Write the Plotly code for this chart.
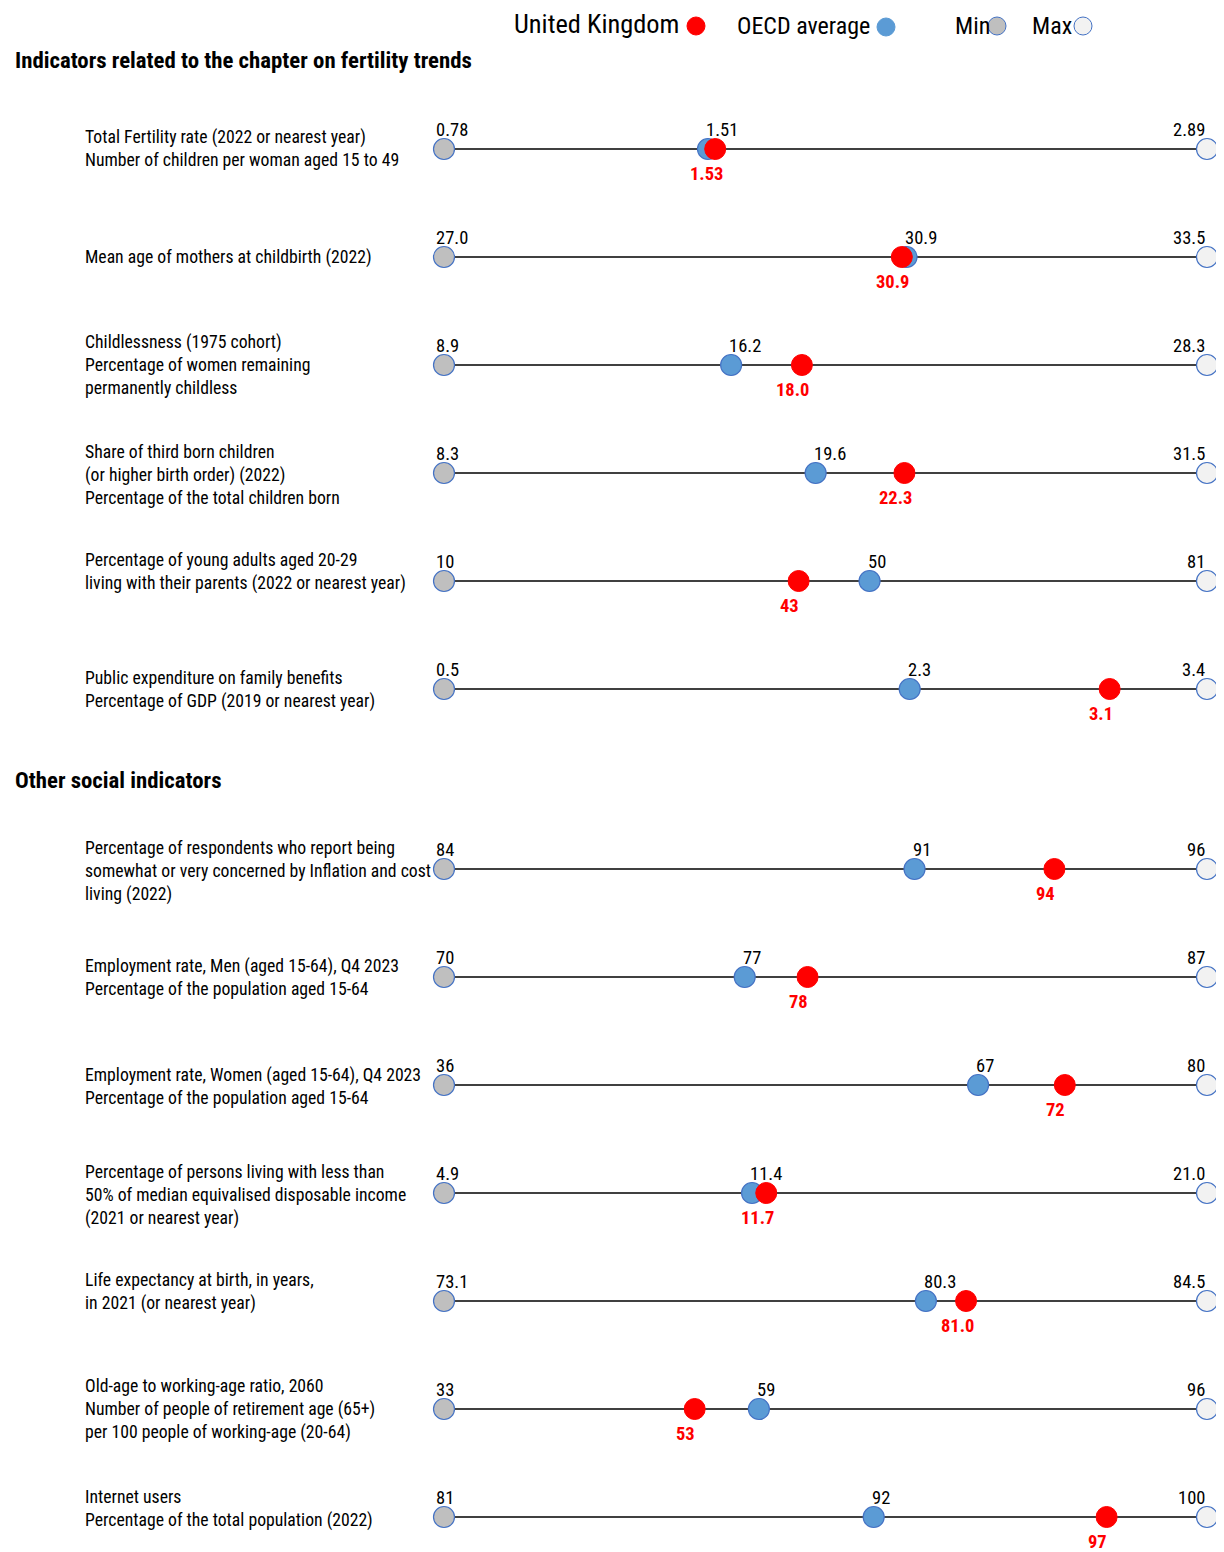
import plotly.graph_objects as go

# ---------------- data ----------------
indicators = [
    "Total Fertility rate (2022 or nearest year)<br>Number of children per woman aged 15 to 49",
    "Mean age of mothers at childbirth (2022)",
    "Childlessness (1975 cohort)<br>Percentage of women remaining<br>permanently childless",
    "Share of third born children<br>(or higher birth order) (2022)<br>Percentage of the total children born",
    "Percentage of young adults aged 20-29<br>living with their parents (2022 or nearest year)",
    "Public expenditure on family benefits<br>Percentage of GDP (2019 or nearest year)",
    "Percentage of respondents who report being<br>somewhat or very concerned by Inflation and cost of<br>living (2022)",
    "Employment rate, Men (aged 15-64), Q4 2023<br>Percentage of the population aged 15-64",
    "Employment rate, Women (aged 15-64), Q4 2023<br>Percentage of the population aged 15-64",
    "Percentage of persons living with less than<br>50% of median equivalised disposable income<br>(2021 or nearest year)",
    "Life expectancy at birth, in years,<br>in 2021 (or nearest year)",
    "Old-age to working-age ratio, 2060<br>Number of people of retirement age (65+)<br>per 100 people of working-age (20-64)",
    "Internet users<br>Percentage of the total population (2022)",
]
section_of_row = [0, 0, 0, 0, 0, 0, 1, 1, 1, 1, 1, 1, 1]
section_titles = ["Indicators related to the chapter on fertility trends", "Other social indicators"]

min_vals = [0.78, 27.0, 8.9, 8.3, 10, 0.5, 84, 70, 36, 4.9, 73.1, 33, 81]
max_vals = [2.89, 33.5, 28.3, 31.5, 81, 3.4, 96, 87, 80, 21.0, 84.5, 96, 100]
oecd_vals = [1.51, 30.94, 16.2, 19.6, 49.6, 2.27, 91.4, 76.7, 66.8, 11.4, 80.3, 59, 91.7]
uk_vals = [1.53, 30.9, 18.0, 22.3, 43, 3.03, 93.6, 78.1, 71.8, 11.7, 80.9, 53.7, 97.5]

min_labels = ["0.78", "27.0", "8.9", "8.3", "10", "0.5", "84", "70", "36", "4.9", "73.1", "33", "81"]
max_labels = ["2.89", "33.5", "28.3", "31.5", "81", "3.4", "96", "87", "80", "21.0", "84.5", "96", "100"]
oecd_labels = ["1.51", "30.9", "16.2", "19.6", "50", "2.3", "91", "77", "67", "11.4", "80.3", "59", "92"]
uk_labels = ["1.53", "30.9", "18.0", "22.3", "43", "3.1", "94", "78", "72", "11.7", "81.0", "53", "97"]

legend_names = ["United Kingdom", "OECD average", "Min", "Max"]

# ---------------- styling ----------------
OFF = 8                      # browser body margin
W, H = 1224 - OFF, 1552 - OFF
FONT = "Liberation Sans Narrow, Arial Narrow, Roboto Condensed, Liberation Sans, sans-serif"
RED = "#FF0000"
BLUE = "#5B9BD5"
GREY = "#BFBFBF"
WHITE = "#F2F2F2"
EDGE = "#4472C4"

X0_PX, X1_PX = 444, 1207     # reference pixel positions of min / max
SPAN = X1_PX - X0_PX
ROW0_PX, ROW_STEP = 149, 108
SECTION_GAP = (180 - 108) / 108
LABEL_DY_PX = [1, 2, 2, 4, -8, 2, 4, 2, 3, 4, -8, 2, -7]   # fine vertical placement of the row captions

n = len(indicators)
row_y = [i + (SECTION_GAP if section_of_row[i] == 1 else 0) for i in range(n)]
label_y = [row_y[i] + LABEL_DY_PX[i] / ROW_STEP for i in range(n)]


def norm(v, lo, hi):
    return (v - lo) / (hi - lo)


min_x = [0.0 for _ in range(n)]
max_x = [1.0 for _ in range(n)]
oecd_x = [norm(oecd_vals[i], min_vals[i], max_vals[i]) for i in range(n)]
uk_x = [norm(uk_vals[i], min_vals[i], max_vals[i]) for i in range(n)]

label_x = (85 - X0_PX) / SPAN

fig = go.Figure()

# indicator labels (drawn first so markers sit on top)
fig.add_trace(go.Scatter(
    x=[label_x] * n, y=label_y, mode="text", text=indicators,
    textposition="middle right", cliponaxis=False,
    textfont=dict(family=FONT, size=17.7, color="#000000"),
    hoverinfo="skip", showlegend=False,
))

# range lines
for i in range(n):
    fig.add_trace(go.Scatter(
        x=[min_x[i], max_x[i]], y=[row_y[i], row_y[i]], mode="lines",
        line=dict(color="#000000", width=1.6), cliponaxis=False,
        hoverinfo="skip", showlegend=False,
    ))

MS = 21
fig.add_trace(go.Scatter(x=min_x, y=row_y, mode="markers", cliponaxis=False,
                         marker=dict(size=MS, color=GREY, line=dict(color=EDGE, width=1.2)),
                         name="Min", showlegend=False))
fig.add_trace(go.Scatter(x=max_x, y=row_y, mode="markers", cliponaxis=False,
                         marker=dict(size=MS, color=WHITE, line=dict(color=EDGE, width=1.2)),
                         name="Max", showlegend=False))
fig.add_trace(go.Scatter(x=oecd_x, y=row_y, mode="markers", cliponaxis=False,
                         marker=dict(size=MS, color=BLUE, line=dict(color=EDGE, width=1.2)),
                         name="OECD average", showlegend=False))
fig.add_trace(go.Scatter(x=uk_x, y=row_y, mode="markers", cliponaxis=False,
                         marker=dict(size=MS, color=RED, line=dict(color=RED, width=1)),
                         name="United Kingdom", showlegend=False))

ann = []
NUMF = dict(family=FONT, size=18.5, color="#000000")
for i in range(n):
    ann.append(dict(x=min_x[i], y=row_y[i], xref="x", yref="y", text=min_labels[i],
                    showarrow=False, xanchor="left", yanchor="middle", xshift=-10, yshift=19, font=NUMF))
    ann.append(dict(x=max_x[i], y=row_y[i], xref="x", yref="y", text=max_labels[i],
                    showarrow=False, xanchor="right", yanchor="middle", xshift=0, yshift=19, font=NUMF))
    ann.append(dict(x=oecd_x[i], y=row_y[i], xref="x", yref="y", text=oecd_labels[i],
                    showarrow=False, xanchor="left", yanchor="middle", xshift=-4, yshift=19, font=NUMF))
    ann.append(dict(x=uk_x[i], y=row_y[i], xref="x", yref="y", text="<b>" + uk_labels[i] + "</b>",
                    showarrow=False, xanchor="center", yanchor="middle", xshift=-9, yshift=-25,
                    font=dict(family=FONT, size=18.5, color=RED)))


def px_x(p):
    return (p - OFF) / W


def px_y(p):
    return 1 - (p - OFF) / H


# section titles
title_px = [60, 780]
for t, py in zip(section_titles, title_px):
    ann.append(dict(x=px_x(13), y=px_y(py), xref="paper", yref="paper", text="<b>" + t + "</b>",
                    showarrow=False, xanchor="left", yanchor="middle",
                    font=dict(family=FONT, size=22.8, color="#000000")))

# custom legend
leg_text_px = [(512, 24, 26.4), (735, 26, 24), (953, 26, 24), (1030, 26, 24)]
leg_dot_px = [(696, 26, RED, RED), (886, 27, BLUE, BLUE), (997, 26, GREY, EDGE), (1083, 26, WHITE, EDGE)]
shapes = []
for name, (tx, ty, fs), (dx, dy, fc, lc) in zip(legend_names, leg_text_px, leg_dot_px):
    ann.append(dict(x=px_x(tx), y=px_y(ty), xref="paper", yref="paper", text=name,
                    showarrow=False, xanchor="left", yanchor="middle",
                    font=dict(family=FONT, size=fs, color="#000000")))
    r = 9
    shapes.append(dict(type="circle", xref="paper", yref="paper",
                       x0=px_x(dx - r), x1=px_x(dx + r), y0=px_y(dy + r), y1=px_y(dy - r),
                       fillcolor=fc, line=dict(color=lc, width=1)))

# axes mapped so that normalised 0..1 lands on the reference pixels
x_lo = (0 - (X0_PX - OFF)) / SPAN
x_hi = (W - (X0_PX - OFF)) / SPAN
y_top = -(ROW0_PX - OFF) / ROW_STEP
y_bot = (H - (ROW0_PX - OFF)) / ROW_STEP

fig.update_layout(
    width=W, height=H, margin=dict(l=0, r=0, t=0, b=0),
    paper_bgcolor="white", plot_bgcolor="white",
    xaxis=dict(domain=[0, 1], range=[x_lo, x_hi], visible=False, fixedrange=True),
    yaxis=dict(domain=[0, 1], range=[y_bot, y_top], visible=False, fixedrange=True),
    annotations=ann, shapes=shapes, showlegend=False,
    font=dict(family=FONT),
)

fig.write_html("out.html")
